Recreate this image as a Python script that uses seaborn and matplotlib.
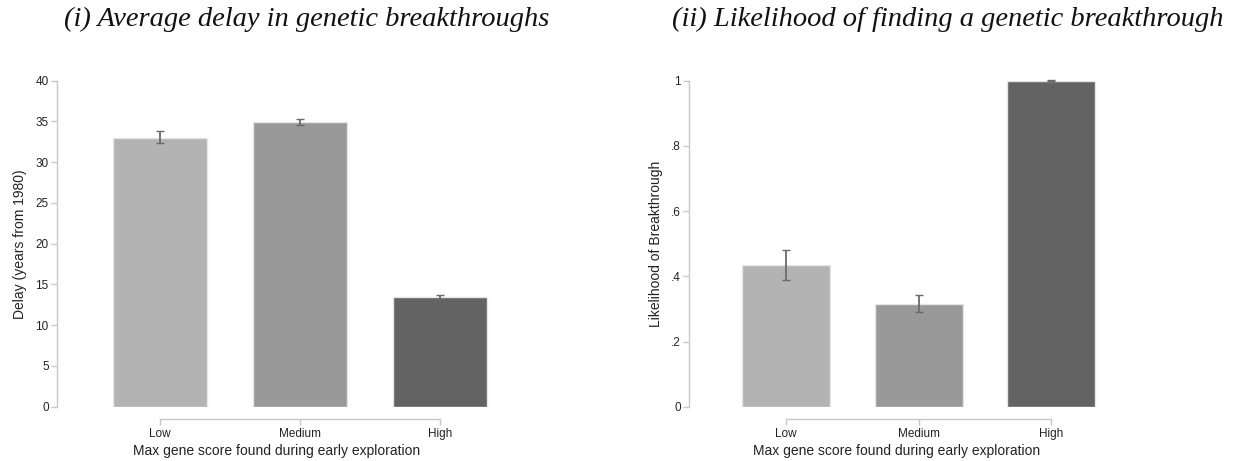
import matplotlib
matplotlib.use("Agg")
import matplotlib.pyplot as plt
import seaborn as sns
import numpy as np

categories = ["Low", "Medium", "High"]
bar_colors = ["#b3b3b3", "#999999", "#636363"]

delay_mean = [33.0, 34.95, 13.45]
delay_lo = [32.3, 34.6, 13.25]
delay_hi = [33.8, 35.35, 13.7]

like_mean = [0.435, 0.315, 1.0]
like_lo = [0.390, 0.290, 0.999]
like_hi = [0.480, 0.342, 1.001]

delay_yticks = [0, 5, 10, 15, 20, 25, 30, 35, 40]
delay_yticklabels = ["0", "5", "10", "15", "20", "25", "30", "35", "40"]
like_yticks = [0, 0.2, 0.4, 0.6, 0.8, 1.0]
like_yticklabels = ["0", ".2", ".4", ".6", ".8", "1"]

sns.set_theme(style="white")
plt.rcParams["font.family"] = ["Liberation Sans", "DejaVu Sans"]

W, H = 1238, 461
fig = plt.figure(figsize=(W / 100, H / 100), dpi=100)

spine_col = "#c8c8c8"
err_col = "#6a6a6a"


def panel(rect, means, lo, hi, yticks, yticklabels, ylabel, xlim):
    ax = fig.add_axes(rect)
    sns.barplot(x=categories, y=means, hue=categories, palette=bar_colors,
                legend=False, width=0.665, ax=ax, edgecolor="#e6e6e6",
                linewidth=1.0, saturation=1)
    x = np.arange(len(categories))
    m = np.array(means)
    yerr = np.vstack([m - np.array(lo), np.array(hi) - m])
    ax.errorbar(x, m, yerr=yerr, fmt="none", ecolor=err_col, elinewidth=1.3,
                capsize=3, capthick=1.0, clip_on=False, zorder=5)
    ax.set_xlim(*xlim)
    ax.set_ylim(yticks[0], yticks[-1])
    ax.set_yticks(yticks)
    ax.set_yticklabels(yticklabels)
    for s in ["top", "right"]:
        ax.spines[s].set_visible(False)
    ax.spines["left"].set_color(spine_col)
    ax.spines["bottom"].set_color(spine_col)
    ax.spines["left"].set_linewidth(1.0)
    ax.spines["bottom"].set_linewidth(1.0)
    ax.spines["left"].set_bounds(yticks[0], yticks[-1])
    ax.spines["bottom"].set_bounds(0, len(categories) - 1)
    ax.spines["bottom"].set_position(("outward", 9))
    ax.tick_params(axis="both", which="both", direction="out", length=4,
                   width=1.0, color=spine_col, labelsize=8.5, pad=2,
                   labelcolor="#222222", left=True, bottom=True)
    ax.set_xlabel("Max gene score found during early exploration", fontsize=10,
                  color="#222222", labelpad=3)
    ax.set_ylabel(ylabel, fontsize=10, color="#222222", labelpad=6)
    return ax


ax1 = panel([57 / W, 1 - 406.7 / H, 439 / W, 326 / H], delay_mean, delay_lo,
            delay_hi, delay_yticks, delay_yticklabels,
            "Delay (years from 1980)", (-0.736, 2.4))
ax2 = panel([689.3 / W, 1 - 406.7 / H, 415 / W, 326 / H], like_mean, like_lo,
            like_hi, like_yticks, like_yticklabels,
            "Likelihood of Breakthrough", (-0.73, 2.4))

fig.text(307 / W, 1 - 19 / H, "(i) Average delay in genetic breakthroughs",
         ha="center", va="center", fontsize=20.5, style="italic",
         family=["Liberation Serif", "DejaVu Serif"], color="#111111")
fig.text(948 / W, 1 - 19 / H, "(ii) Likelihood of finding a genetic breakthrough",
         ha="center", va="center", fontsize=20.5, style="italic",
         family=["Liberation Serif", "DejaVu Serif"], color="#111111")

fig.savefig("out.png", dpi=100)
